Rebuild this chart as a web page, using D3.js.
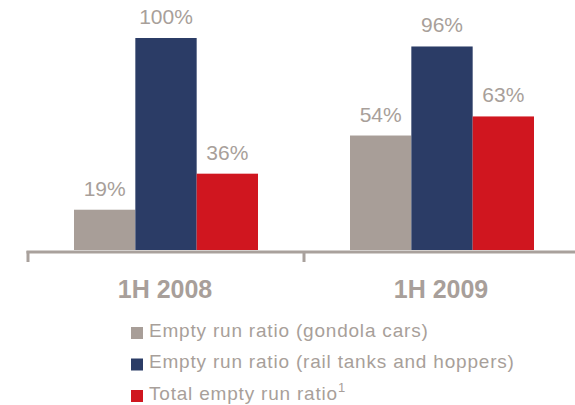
<!DOCTYPE html>
<html>
<head>
<meta charset="utf-8">
<script src="https://cdn.jsdelivr.net/npm/d3@7"></script>
<style>
  html, body { margin: 0; padding: 0; background: #fff; }
  svg { display: block; font-family: "Liberation Sans", Arial, sans-serif; }
</style>
</head>
<body>
<svg id="chart" width="575" height="405"></svg>
<script>
// Half-year periods on the x axis
const periods = ["1H 2008", "1H 2009"];
// Series shown in each period
const seriesNames = [
  "Empty run ratio (gondola cars)",
  "Empty run ratio (rail tanks and hoppers)",
  "Total empty run ratio"
];
const seriesKeys = ["gondola", "tanks", "total"];
// Values in percent, one entry per period
const gondola = [19, 54];
const tanks = [100, 96];
const total = [36, 63];
const seriesColors = ["#a89e98", "#2b3c66", "#d0161f"];

const textGray = "#a89f9a";
const values = { gondola, tanks, total };

const svg = d3.select("#chart");
const baseline = 250;

const x0 = d3.scaleBand().domain(periods).range([28, 580]).paddingInner(0).paddingOuter(0);
const x1 = d3.scaleBand().domain(seriesKeys).range([46, 230]).padding(0);
const y = d3.scaleLinear().domain([0, 100]).range([baseline, 38]);

// Bars
const groups = svg.selectAll("g.period")
  .data(periods)
  .join("g")
  .attr("class", "period")
  .attr("transform", d => `translate(${x0(d)},0)`);

groups.selectAll("rect")
  .data((p, i) => seriesKeys.map((k, j) => ({ key: k, value: values[k][i], color: seriesColors[j] })))
  .join("rect")
  .attr("x", d => x1(d.key))
  .attr("width", x1.bandwidth())
  .attr("y", d => y(d.value))
  .attr("height", d => baseline - y(d.value))
  .attr("fill", d => d.color);

// Value labels
groups.selectAll("text.value")
  .data((p, i) => seriesKeys.map(k => ({ key: k, value: values[k][i] })))
  .join("text")
  .attr("class", "value")
  .attr("x", d => x1(d.key) + x1.bandwidth() / 2)
  .attr("y", d => y(d.value) - 14)
  .attr("text-anchor", "middle")
  .attr("font-size", 21)
  .attr("fill", textGray)
  .text(d => d.value + "%");

// Category axis: baseline with ticks at band boundaries
const axisColor = "#a9a19c";
const tickPositions = periods.map(p => x0(p)).concat([x0.range()[1]]);
svg.append("line")
  .attr("x1", tickPositions[0] - 1.5)
  .attr("x2", 575)
  .attr("y1", baseline + 2)
  .attr("y2", baseline + 2)
  .attr("stroke", axisColor)
  .attr("stroke-width", 3);
svg.selectAll("line.tick")
  .data(tickPositions)
  .join("line")
  .attr("class", "tick")
  .attr("x1", d => d)
  .attr("x2", d => d)
  .attr("y1", baseline + 1)
  .attr("y2", baseline + 12)
  .attr("stroke", axisColor)
  .attr("stroke-width", 3);

svg.selectAll("text.period")
  .data(periods)
  .join("text")
  .attr("class", "period")
  .attr("x", d => x0(d) + x0.bandwidth() / 2 - 1)
  .attr("y", 298)
  .attr("text-anchor", "middle")
  .attr("font-size", 25)
  .attr("font-weight", "bold")
  .attr("fill", textGray)
  .text(d => d);

// Legend
const legend = svg.append("g").attr("transform", "translate(131,327)");
const rows = legend.selectAll("g")
  .data(seriesNames)
  .join("g")
  .attr("transform", (d, i) => `translate(0,${i * 31.5})`);
rows.append("rect")
  .attr("width", 12)
  .attr("height", 12)
  .attr("fill", (d, i) => seriesColors[i]);
const labels = rows.append("text")
  .attr("x", 18)
  .attr("y", 9.5)
  .attr("font-size", 19)
  .attr("letter-spacing", 0.8)
  .attr("fill", textGray);
labels.append("tspan").text(d => d);
labels.filter((d, i) => i === 2)
  .append("tspan")
  .attr("font-size", 13)
  .attr("dy", -8)
  .text("1");
</script>
</body>
</html>
